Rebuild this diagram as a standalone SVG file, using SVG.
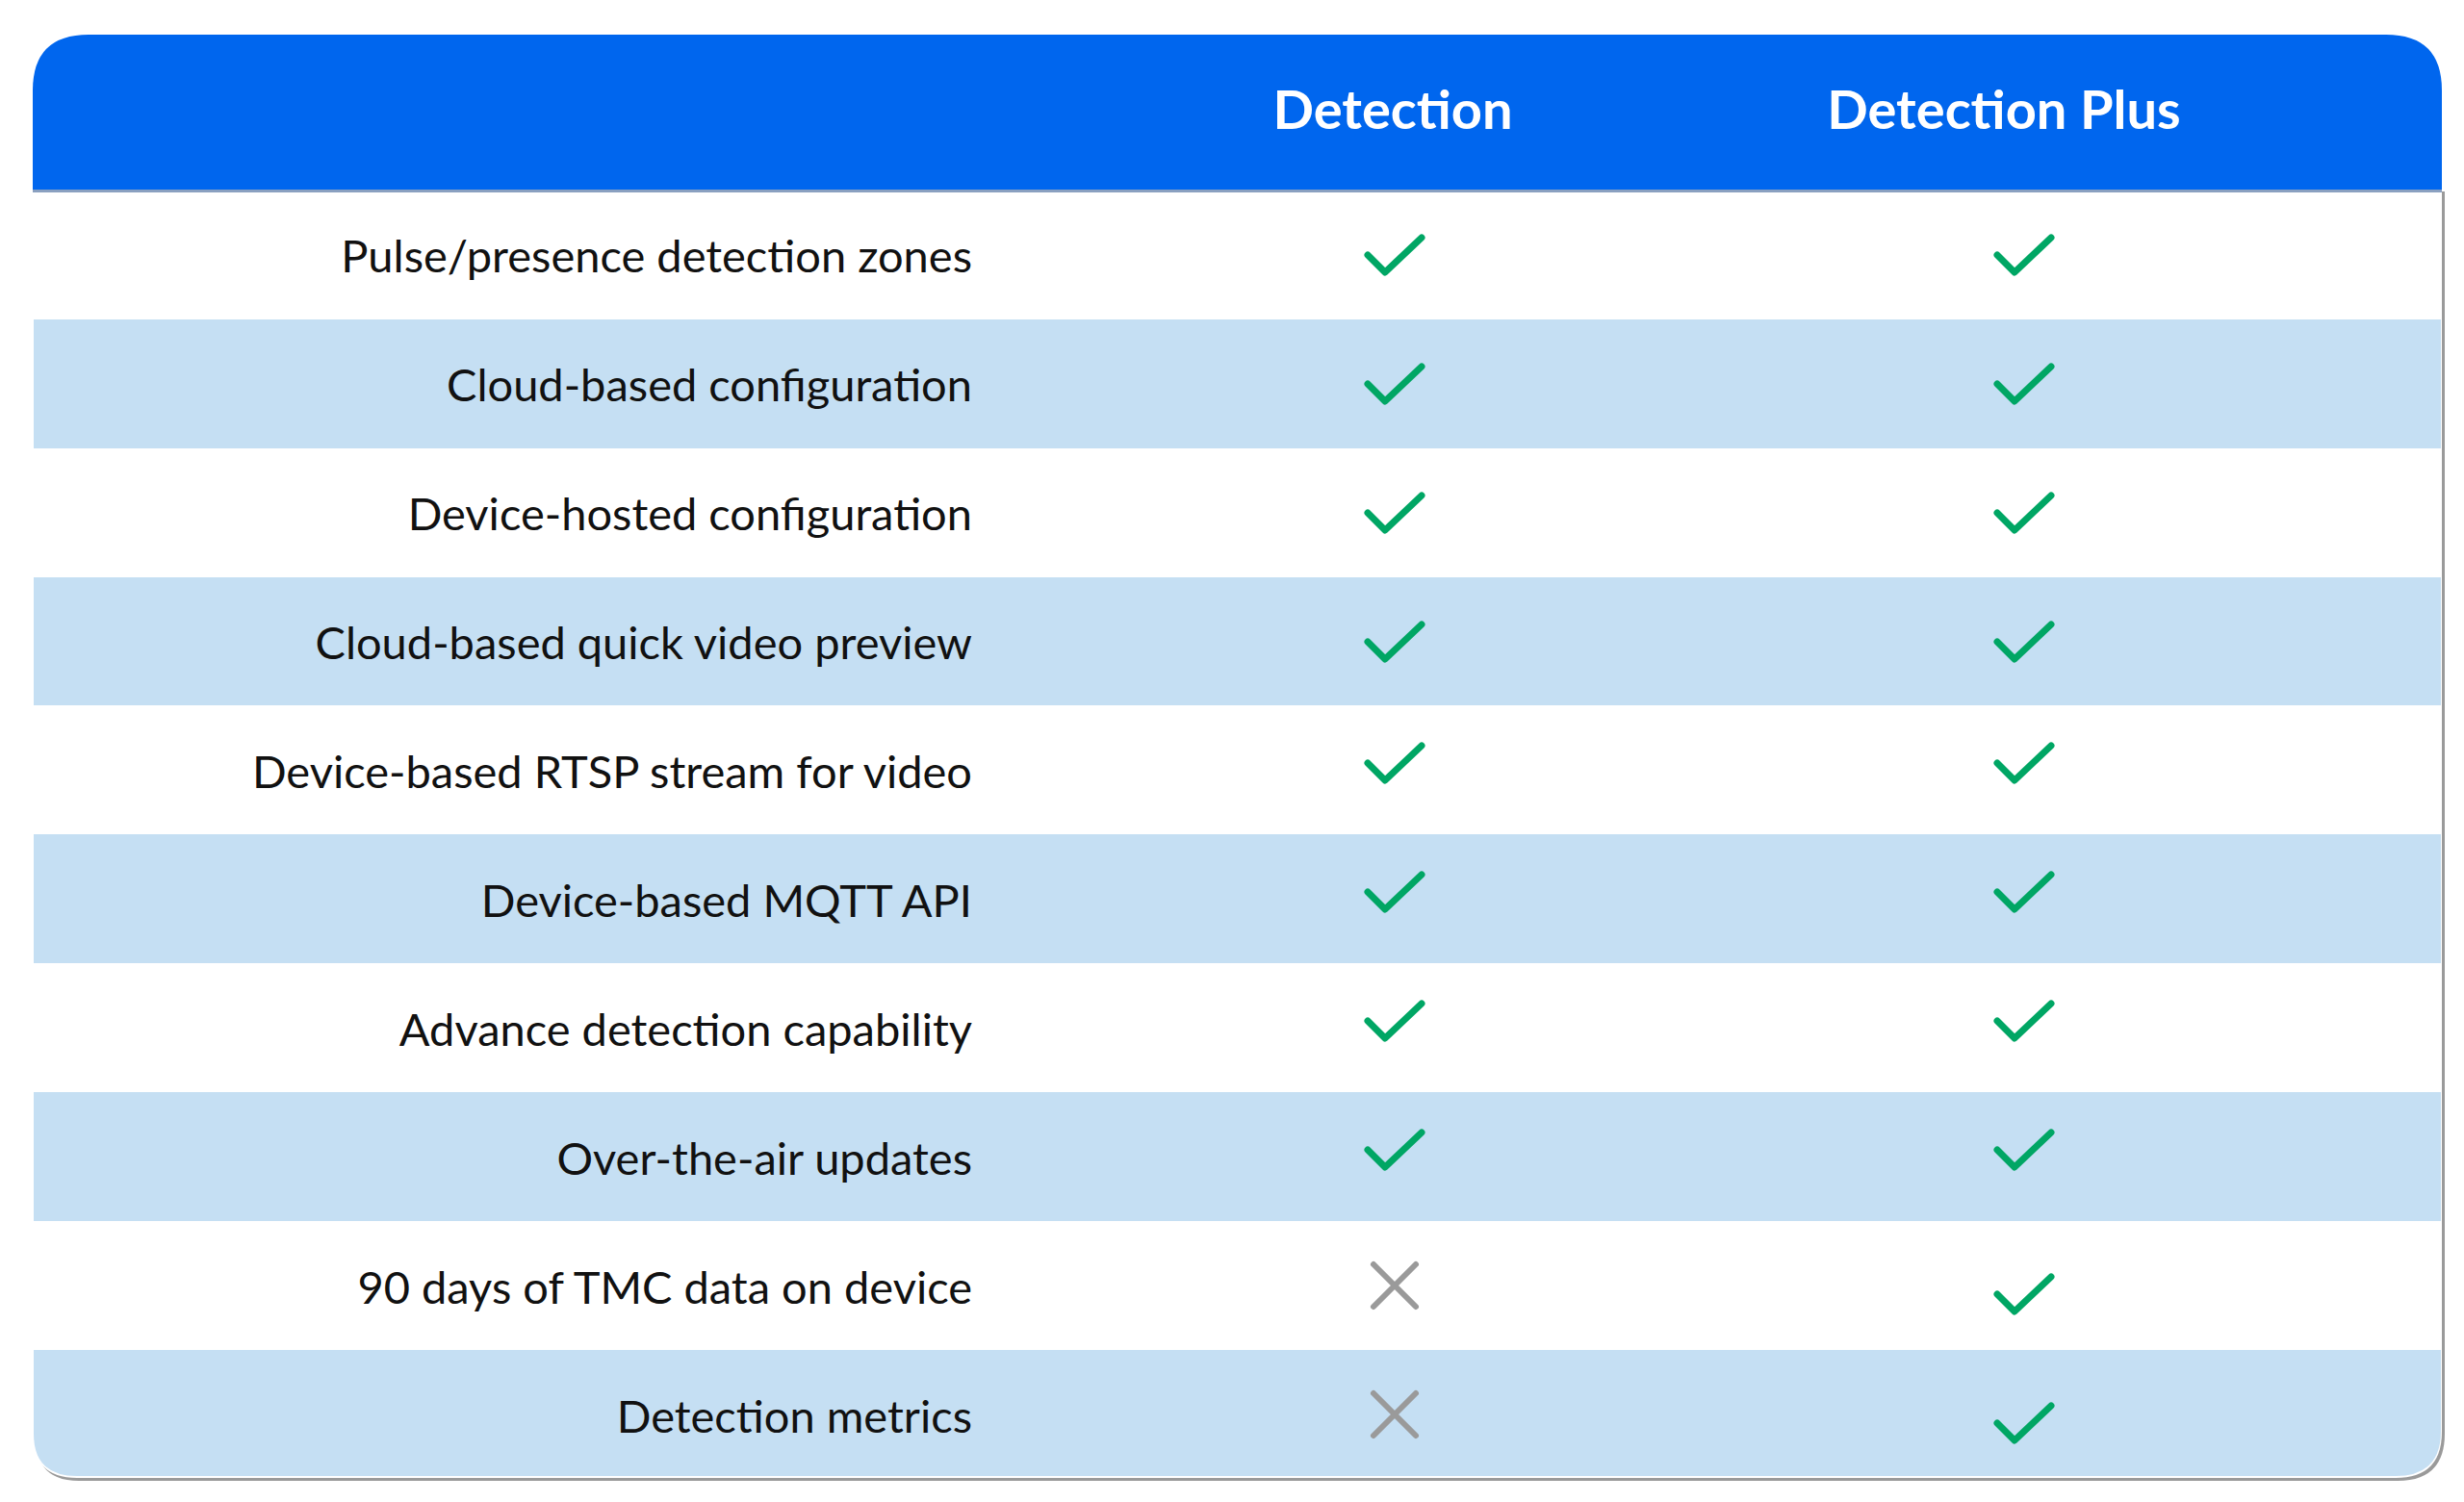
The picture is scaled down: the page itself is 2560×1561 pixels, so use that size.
<svg xmlns="http://www.w3.org/2000/svg" width="2560" height="1561" viewBox="0 0 2560 1561">
<defs>
<style>
.lbl{font-family:Lato,"Liberation Sans",sans-serif;font-size:47px;fill:#111;text-anchor:end}
.hd{font-family:Lato,"Liberation Sans",sans-serif;font-size:56px;font-weight:bold;fill:#fff;text-anchor:middle}
.alt{fill:#c5dff3}
.ck{fill:none;stroke:#00a664;stroke-width:7;stroke-linecap:round;stroke-linejoin:round}
.x{fill:none;stroke:#9a9a9a;stroke-width:6;stroke-linecap:round}
</style>
<symbol id="chk" viewBox="-30 -25 60 50" overflow="visible"><path class="ck" d="M-28 0 L-10 18 L28 -18"/></symbol>
<symbol id="crs" viewBox="-25 -25 50 50" overflow="visible"><path class="x" d="M-22 -22 L22 22 M22 -22 L-22 22"/></symbol>
</defs>
<rect width="2560" height="1561" fill="#fff"/>
<path d="M37 199 H2540 V1490 Q2540 1539 2491 1539 H82 Q37 1539 37 1494 Z" fill="#9a9a9a"/>
<path d="M34 199 H2537 V1488 Q2537 1536 2489 1536 H80 Q34 1536 34 1490 Z" fill="#fff"/>
<g id="stripes">
<rect class="alt" x="35" y="332" width="2501" height="134"/>
<rect class="alt" x="35" y="600" width="2501" height="133"/>
<rect class="alt" x="35" y="867" width="2501" height="134"/>
<rect class="alt" x="35" y="1135" width="2501" height="134"/>
<path class="alt" d="M35 1403 H2536 V1487 Q2536 1534 2489 1534 H80 Q35 1534 35 1490 Z"/>
</g>
<g id="header">
<path d="M34 199 V94 Q34 36 92 36 H2479 Q2537 36 2537 94 V199 Z" fill="#0066ee"/>
<rect x="34" y="197" width="2503" height="3" fill="#8aa0c0"/>
<text class="hd" x="1447" y="134">Detection</text>
<text class="hd" x="2082" y="134">Detection Plus</text>
</g>
<g id="r1"><text class="lbl" x="1010" y="283">Pulse/presence detection zones</text><use href="#chk" x="1419" y="240" width="60" height="50"/><use href="#chk" x="2073" y="240" width="60" height="50"/></g>
<g id="r2"><text class="lbl" x="1010" y="417">Cloud-based configuration</text><use href="#chk" x="1419" y="374" width="60" height="50"/><use href="#chk" x="2073" y="374" width="60" height="50"/></g>
<g id="r3"><text class="lbl" x="1010" y="551">Device-hosted configuration</text><use href="#chk" x="1419" y="508" width="60" height="50"/><use href="#chk" x="2073" y="508" width="60" height="50"/></g>
<g id="r4"><text class="lbl" x="1010" y="685">Cloud-based quick video preview</text><use href="#chk" x="1419" y="642" width="60" height="50"/><use href="#chk" x="2073" y="642" width="60" height="50"/></g>
<g id="r5"><text class="lbl" x="1010" y="819">Device-based RTSP stream for video</text><use href="#chk" x="1419" y="768" width="60" height="50"/><use href="#chk" x="2073" y="768" width="60" height="50"/></g>
<g id="r6"><text class="lbl" x="1010" y="953">Device-based MQTT API</text><use href="#chk" x="1419" y="902" width="60" height="50"/><use href="#chk" x="2073" y="902" width="60" height="50"/></g>
<g id="r7"><text class="lbl" x="1010" y="1087">Advance detection capability</text><use href="#chk" x="1419" y="1036" width="60" height="50"/><use href="#chk" x="2073" y="1036" width="60" height="50"/></g>
<g id="r8"><text class="lbl" x="1010" y="1221">Over-the-air updates</text><use href="#chk" x="1419" y="1170" width="60" height="50"/><use href="#chk" x="2073" y="1170" width="60" height="50"/></g>
<g id="r9"><text class="lbl" x="1010" y="1355">90 days of TMC data on device</text><use href="#crs" x="1424" y="1311" width="50" height="50"/><use href="#chk" x="2073" y="1320" width="60" height="50"/></g>
<g id="r10"><text class="lbl" x="1010" y="1489">Detection metrics</text><use href="#crs" x="1424" y="1445" width="50" height="50"/><use href="#chk" x="2073" y="1454" width="60" height="50"/></g>
</svg>
